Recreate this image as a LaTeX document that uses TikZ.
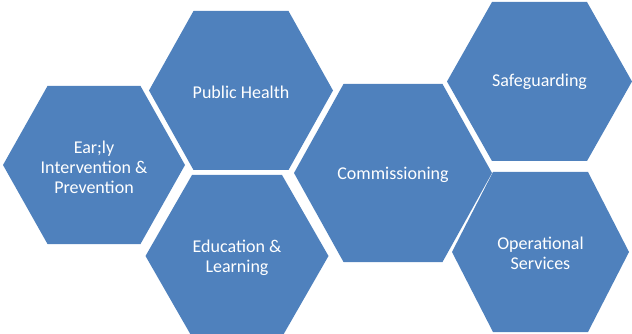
\documentclass[tikz,border=0pt]{standalone}
\usepackage{fontspec}
\setmainfont{Carlito}
\definecolor{hexblue}{HTML}{4F81BD}
\tikzset{
  hexfill/.style={fill=hexblue},
  hexlabel/.style={text=white, align=center, font=\fontsize{18}{20}\selectfont, inner sep=0pt}
}
% #1 cx, #2 cy, #3 R (half width), #4 half height, #5 half top edge
\newcommand\hexpatch[5]{%
  \fill[hexfill] ({#1-#3},{#2}) -- ({#1-#5},{#2-#4}) -- ({#1+#5},{#2-#4}) -- ({#1+#3},{#2}) -- ({#1+#5},{#2+#4}) -- ({#1-#5},{#2+#4}) -- cycle;}
\begin{document}
\begin{tikzpicture}[x=1pt,y=-1pt]
\useasboundingbox (0,0) rectangle (632,334);
\hexpatch{94}{165}{91}{79}{46.5}
\hexpatch{241}{90.5}{92}{79.5}{47.5}
\hexpatch{237}{256}{91.5}{81}{45}
\hexpatch{393}{173}{99}{89}{49.5}
\hexpatch{539.5}{81.5}{92.5}{79.5}{47.5}
\hexpatch{540.5}{252}{88.5}{80}{47.5}
\node[hexlabel] (early) at (94,167) {Ear;ly\\Intervention \&\\Prevention};
\node[hexlabel] (public) at (241,92) {Public Health};
\node[hexlabel] (edu) at (237,257.5) {Education \&\\Learning};
\node[hexlabel] (comm) at (393,174.5) {Commissioning};
\node[hexlabel] (safe) at (539.5,82) {Safeguarding};
\node[hexlabel] (oper) at (540.5,253.5) {Operational\\Services};
\end{tikzpicture}
\end{document}
